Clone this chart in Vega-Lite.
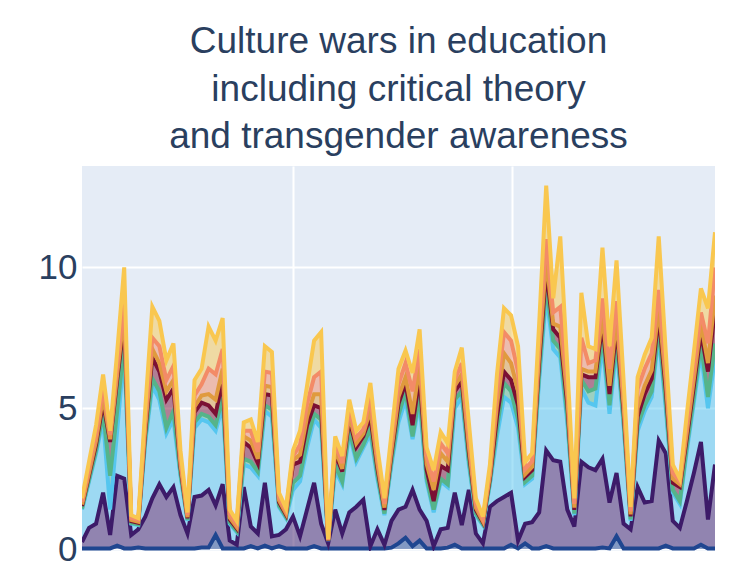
{
  "$schema": "https://vega.github.io/schema/vega-lite/v6.json",
  "width": 633,
  "height": 385,
  "autosize": {"type": "none"},
  "padding": {"left": 82, "top": 166, "right": 24, "bottom": 33},
  "background": "white",
  "title": {
    "text": ["Culture wars in education", "including critical theory", "and transgender awareness"],
    "font": "Liberation Sans",
    "fontSize": 37,
    "fontWeight": "normal",
    "color": "#2a3f5f",
    "anchor": "middle",
    "lineHeight": 47.5,
    "offset": 10
  },
  "config": {
    "view": {"fill": "#E5ECF6", "stroke": null}
  },
  "data": {
    "values": [
      {"t":0,"s1":0.02,"s2":0.23,"s3":1.15,"s4":0.04,"s5":0.09,"s6":0.05,"s7":0.09,"s8":0.13},
      {"t":1,"s1":0.02,"s2":0.73,"s3":1.65,"s4":0.07,"s5":0.15,"s6":0.09,"s7":0.15,"s8":0.24},
      {"t":2,"s1":0.02,"s2":0.88,"s3":2.5,"s4":0.1,"s5":0.22,"s6":0.13,"s7":0.22,"s8":0.33},
      {"t":3,"s1":0.02,"s2":1.98,"s3":2.6,"s4":0.25,"s5":0.35,"s6":0.2,"s7":0.35,"s8":0.45},
      {"t":4,"s1":0.02,"s2":0.48,"s3":0.9,"s4":1.2,"s5":1.2,"s6":0.1,"s7":0.15,"s8":0.15},
      {"t":5,"s1":0.12,"s2":2.48,"s3":1.6,"s4":0.7,"s5":1.1,"s6":0.2,"s7":0.3,"s8":0.5},
      {"t":6,"s1":0.02,"s2":2.48,"s3":4.5,"s4":0.3,"s5":0.8,"s6":0.3,"s7":0.4,"s8":1.2},
      {"t":7,"s1":0.02,"s2":0.48,"s3":0.4,"s4":0.03,"s5":0.06,"s6":0.04,"s7":0.07,"s8":0.1},
      {"t":8,"s1":0.05,"s2":0.65,"s3":0.15,"s4":0.03,"s5":0.05,"s6":0.04,"s7":0.06,"s8":0.07},
      {"t":9,"s1":0.02,"s2":1.13,"s3":2.65,"s4":0.12,"s5":0.26,"s6":0.16,"s7":0.27,"s8":0.39},
      {"t":10,"s1":0.02,"s2":1.78,"s3":4.0,"s4":0.25,"s5":0.75,"s6":0.3,"s7":0.4,"s8":1.1},
      {"t":11,"s1":0.02,"s2":2.28,"s3":3.0,"s4":0.3,"s5":0.7,"s6":0.3,"s7":0.6,"s8":0.9},
      {"t":12,"s1":0.02,"s2":1.83,"s3":2.25,"s4":0.2,"s5":1.0,"s6":0.3,"s7":0.4,"s8":0.7},
      {"t":13,"s1":0.02,"s2":2.18,"s3":2.4,"s4":0.3,"s5":0.8,"s6":0.3,"s7":0.5,"s8":0.8},
      {"t":14,"s1":0.02,"s2":1.18,"s3":1.4,"s4":0.1,"s5":0.2,"s6":0.12,"s7":0.2,"s8":0.28},
      {"t":15,"s1":0.02,"s2":0.53,"s3":0.45,"s4":0.03,"s5":0.06,"s6":0.04,"s7":0.07,"s8":0.1},
      {"t":16,"s1":0.02,"s2":1.83,"s3":2.45,"s4":0.2,"s5":0.35,"s6":0.2,"s7":0.4,"s8":0.55},
      {"t":17,"s1":0.05,"s2":1.85,"s3":2.7,"s4":0.2,"s5":0.4,"s6":0.25,"s7":0.4,"s8":0.55},
      {"t":18,"s1":0.05,"s2":2.05,"s3":2.4,"s4":0.2,"s5":0.4,"s6":0.4,"s7":0.9,"s8":1.5},
      {"t":19,"s1":0.5,"s2":1.05,"s3":2.65,"s4":0.2,"s5":0.4,"s6":0.5,"s7":0.9,"s8":1.2},
      {"t":20,"s1":0.02,"s2":2.28,"s3":2.8,"s4":0.3,"s5":0.6,"s6":0.4,"s7":0.7,"s8":1.1},
      {"t":21,"s1":0.02,"s2":0.28,"s3":0.6,"s4":0.05,"s5":0.1,"s6":0.07,"s7":0.12,"s8":0.16},
      {"t":22,"s1":0.02,"s2":0.13,"s3":0.45,"s4":0.04,"s5":0.09,"s6":0.05,"s7":0.09,"s8":0.13},
      {"t":23,"s1":0.02,"s2":2.18,"s3":0.8,"s4":0.2,"s5":0.6,"s6":0.2,"s7":0.2,"s8":0.3},
      {"t":24,"s1":0.1,"s2":0.7,"s3":2.1,"s4":0.2,"s5":0.5,"s6":0.25,"s7":0.35,"s8":0.4},
      {"t":25,"s1":0.02,"s2":0.53,"s3":2.05,"s4":0.15,"s5":0.3,"s6":0.15,"s7":0.25,"s8":0.35},
      {"t":26,"s1":0.12,"s2":2.23,"s3":2.55,"s4":0.2,"s5":0.4,"s6":0.3,"s7":0.5,"s8":0.9},
      {"t":27,"s1":0.02,"s2":0.43,"s3":4.25,"s4":0.25,"s5":0.5,"s6":0.3,"s7":0.5,"s8":0.75},
      {"t":28,"s1":0.1,"s2":0.4,"s3":1.0,"s4":0.05,"s5":0.11,"s6":0.07,"s7":0.11,"s8":0.16},
      {"t":29,"s1":0.02,"s2":0.68,"s3":0.4,"s4":0.04,"s5":0.08,"s6":0.05,"s7":0.08,"s8":0.1},
      {"t":30,"s1":0.02,"s2":1.13,"s3":0.95,"s4":0.25,"s5":0.65,"s6":0.15,"s7":0.15,"s8":0.2},
      {"t":31,"s1":0.02,"s2":0.43,"s3":1.95,"s4":0.2,"s5":0.5,"s6":0.25,"s7":0.35,"s8":0.5},
      {"t":32,"s1":0.02,"s2":1.38,"s3":2.2,"s4":0.25,"s5":0.55,"s6":0.3,"s7":0.45,"s8":0.65},
      {"t":33,"s1":0.1,"s2":2.25,"s3":2.25,"s4":0.2,"s5":0.3,"s6":0.4,"s7":0.6,"s8":1.3},
      {"t":34,"s1":0.02,"s2":0.88,"s3":3.4,"s4":0.3,"s5":0.4,"s6":0.5,"s7":0.8,"s8":1.4},
      {"t":35,"s1":0.02,"s2":0.18,"s3":0.08,"s4":0.01,"s5":0.01,"s6":0.01,"s7":0.02,"s8":0.02},
      {"t":36,"s1":0.02,"s2":1.38,"s3":1.4,"s4":0.2,"s5":0.4,"s6":0.15,"s7":0.2,"s8":0.25},
      {"t":37,"s1":0.02,"s2":0.53,"s3":1.75,"s4":0.1,"s5":0.35,"s6":0.1,"s7":0.2,"s8":0.25},
      {"t":38,"s1":0.02,"s2":1.28,"s3":2.8,"s4":0.15,"s5":0.35,"s6":0.15,"s7":0.25,"s8":0.3},
      {"t":39,"s1":0.02,"s2":1.48,"s3":1.6,"s4":0.12,"s5":0.4,"s6":0.13,"s7":0.2,"s8":0.25},
      {"t":40,"s1":0.02,"s2":1.73,"s3":1.85,"s4":0.1,"s5":0.3,"s6":0.1,"s7":0.15,"s8":0.25},
      {"t":41,"s1":0.02,"s2":0.08,"s3":4.0,"s4":0.2,"s5":0.4,"s6":0.25,"s7":0.45,"s8":0.5},
      {"t":42,"s1":0.02,"s2":0.68,"s3":1.8,"s4":0.12,"s5":0.25,"s6":0.15,"s7":0.25,"s8":0.33},
      {"t":43,"s1":0.02,"s2":0.13,"s3":1.05,"s4":0.06,"s5":0.13,"s6":0.08,"s7":0.13,"s8":0.2},
      {"t":44,"s1":0.05,"s2":0.95,"s3":2.0,"s4":0.12,"s5":0.25,"s6":0.15,"s7":0.25,"s8":0.33},
      {"t":45,"s1":0.2,"s2":1.2,"s3":3.1,"s4":0.25,"s5":0.4,"s6":0.25,"s7":0.45,"s8":0.55},
      {"t":46,"s1":0.4,"s2":1.1,"s3":3.8,"s4":0.3,"s5":0.3,"s6":0.2,"s7":0.5,"s8":0.45},
      {"t":47,"s1":0.1,"s2":2.0,"s3":1.8,"s4":0.1,"s5":0.4,"s6":0.4,"s7":0.8,"s8":0.65},
      {"t":48,"s1":0.3,"s2":1.1,"s3":3.8,"s4":0.3,"s5":0.6,"s6":0.4,"s7":0.6,"s8":0.7},
      {"t":49,"s1":0.02,"s2":0.98,"s3":1.4,"s4":0.12,"s5":0.3,"s6":0.2,"s7":0.28,"s8":0.3},
      {"t":50,"s1":0.02,"s2":0.08,"s3":1.2,"s4":0.1,"s5":0.3,"s6":0.4,"s7":0.3,"s8":0.4},
      {"t":51,"s1":0.02,"s2":0.68,"s3":1.7,"s4":0.1,"s5":0.45,"s6":0.45,"s7":0.35,"s8":0.4},
      {"t":52,"s1":0.05,"s2":0.7,"s3":1.45,"s4":0.1,"s5":0.5,"s6":0.3,"s7":0.3,"s8":0.35},
      {"t":53,"s1":0.15,"s2":1.85,"s3":3.0,"s4":0.3,"s5":0.3,"s6":0.2,"s7":0.2,"s8":0.3},
      {"t":54,"s1":0.02,"s2":0.83,"s3":4.55,"s4":0.2,"s5":0.35,"s6":0.25,"s7":0.4,"s8":0.55},
      {"t":55,"s1":0.02,"s2":2.08,"s3":0.9,"s4":0.15,"s5":0.3,"s6":0.2,"s7":0.35,"s8":0.5},
      {"t":56,"s1":0.02,"s2":0.53,"s3":0.65,"s4":0.06,"s5":0.13,"s6":0.08,"s7":0.13,"s8":0.2},
      {"t":57,"s1":0.02,"s2":0.18,"s3":0.65,"s4":0.03,"s5":0.07,"s6":0.04,"s7":0.07,"s8":0.09},
      {"t":58,"s1":0.02,"s2":1.48,"s3":0.8,"s4":0.07,"s5":0.15,"s6":0.1,"s7":0.15,"s8":0.23},
      {"t":59,"s1":0.02,"s2":1.68,"s3":2.3,"s4":0.3,"s5":0.4,"s6":0.4,"s7":0.5,"s8":0.6},
      {"t":60,"s1":0.02,"s2":1.83,"s3":3.55,"s4":0.5,"s5":0.4,"s6":0.65,"s7":0.75,"s8":0.85},
      {"t":61,"s1":0.15,"s2":1.85,"s3":3.2,"s4":0.4,"s5":0.4,"s6":0.6,"s7":0.8,"s8":0.9},
      {"t":62,"s1":0.02,"s2":0.28,"s3":4.0,"s4":0.3,"s5":0.5,"s6":0.5,"s7":0.7,"s8":0.9},
      {"t":63,"s1":0.2,"s2":0.7,"s3":1.4,"s4":0.08,"s5":0.18,"s6":0.1,"s7":0.18,"s8":0.26},
      {"t":64,"s1":0.02,"s2":0.93,"s3":1.55,"s4":0.1,"s5":0.2,"s6":0.12,"s7":0.2,"s8":0.28},
      {"t":65,"s1":0.02,"s2":1.28,"s3":4.7,"s4":0.2,"s5":0.45,"s6":0.3,"s7":0.45,"s8":0.6},
      {"t":66,"s1":0.1,"s2":3.4,"s3":5.5,"s4":0.4,"s5":0.5,"s6":0.4,"s7":0.7,"s8":1.9},
      {"t":67,"s1":0.02,"s2":3.13,"s3":3.95,"s4":0.3,"s5":0.4,"s6":0.2,"s7":0.4,"s8":0.5},
      {"t":68,"s1":0.02,"s2":3.08,"s3":3.7,"s4":0.3,"s5":0.4,"s6":0.4,"s7":0.7,"s8":2.5},
      {"t":69,"s1":0.02,"s2":1.38,"s3":3.1,"s4":0.2,"s5":0.45,"s6":0.25,"s7":0.45,"s8":0.65},
      {"t":70,"s1":0.02,"s2":0.78,"s3":0.4,"s4":0.06,"s5":0.13,"s6":0.08,"s7":0.13,"s8":0.2},
      {"t":71,"s1":0.02,"s2":3.08,"s3":2.6,"s4":0.3,"s5":0.2,"s6":0.2,"s7":1.1,"s8":1.6},
      {"t":72,"s1":0.02,"s2":2.88,"s3":2.3,"s4":0.4,"s5":0.5,"s6":0.2,"s7":0.3,"s8":0.6},
      {"t":73,"s1":0.02,"s2":2.78,"s3":2.3,"s4":0.6,"s5":0.4,"s6":0.2,"s7":0.4,"s8":0.4},
      {"t":74,"s1":0.05,"s2":3.15,"s3":4.1,"s4":0.3,"s5":0.4,"s6":0.3,"s7":0.6,"s8":1.8},
      {"t":75,"s1":0.02,"s2":1.63,"s3":3.15,"s4":0.3,"s5":0.4,"s6":0.3,"s7":0.6,"s8":0.8},
      {"t":76,"s1":0.45,"s2":2.25,"s3":4.5,"s4":0.3,"s5":0.4,"s6":0.3,"s7":0.6,"s8":1.45},
      {"t":77,"s1":0.02,"s2":0.88,"s3":3.5,"s4":0.15,"s5":0.35,"s6":0.2,"s7":0.35,"s8":0.55},
      {"t":78,"s1":0.02,"s2":0.68,"s3":0.3,"s4":0.05,"s5":0.11,"s6":0.07,"s7":0.11,"s8":0.16},
      {"t":79,"s1":0.02,"s2":2.18,"s3":2.0,"s4":0.2,"s5":0.3,"s6":0.3,"s7":0.7,"s8":0.4},
      {"t":80,"s1":0.02,"s2":1.63,"s3":3.25,"s4":0.2,"s5":0.4,"s6":0.3,"s7":0.6,"s8":0.5},
      {"t":81,"s1":0.02,"s2":1.68,"s3":3.7,"s4":0.2,"s5":0.45,"s6":0.3,"s7":0.6,"s8":0.55},
      {"t":82,"s1":0.02,"s2":3.83,"s3":3.75,"s4":0.3,"s5":0.4,"s6":0.3,"s7":0.6,"s8":1.9},
      {"t":83,"s1":0.12,"s2":3.28,"s3":1.6,"s4":0.2,"s5":0.45,"s6":0.3,"s7":0.45,"s8":0.6},
      {"t":84,"s1":0.02,"s2":0.98,"s3":1.0,"s4":0.1,"s5":0.25,"s6":0.15,"s7":0.2,"s8":0.3},
      {"t":85,"s1":0.02,"s2":0.73,"s3":0.85,"s4":0.1,"s5":0.5,"s6":0.1,"s7":0.1,"s8":0.1},
      {"t":86,"s1":0.02,"s2":1.68,"s3":1.8,"s4":0.15,"s5":0.3,"s6":0.2,"s7":0.3,"s8":0.35},
      {"t":87,"s1":0.02,"s2":2.68,"s3":2.5,"s4":0.2,"s5":0.4,"s6":0.25,"s7":0.4,"s8":0.55},
      {"t":88,"s1":0.15,"s2":3.65,"s3":3.2,"s4":0.3,"s5":0.4,"s6":0.3,"s7":0.4,"s8":0.85},
      {"t":89,"s1":0.02,"s2":1.03,"s3":3.95,"s4":0.4,"s5":0.9,"s6":0.3,"s7":0.7,"s8":1.25},
      {"t":90,"s1":0.02,"s2":2.98,"s3":3.8,"s4":0.5,"s5":1.2,"s6":0.5,"s7":1.0,"s8":1.25}
    ]
  },
  "transform": [
    {"fold": ["s1", "s2", "s3", "s4", "s5", "s6", "s7", "s8"], "as": ["series", "value"]}
  ],
  "encoding": {
    "x": {
      "field": "t",
      "type": "quantitative",
      "scale": {"domain": [0, 90], "nice": false, "zero": false},
      "axis": {"values": [30, 61.1], "labels": false, "ticks": false, "domain": false, "grid": true, "gridColor": "white", "gridWidth": 2, "title": null}
    },
    "y": {
      "field": "value",
      "type": "quantitative",
      "stack": "zero",
      "scale": {"domain": [-0.07, 13.6], "nice": false, "zero": false},
      "axis": {"values": [0, 5, 10], "ticks": false, "domain": false, "grid": true, "gridColor": "white", "gridWidth": 2, "labelFont": "Liberation Sans", "labelFontSize": 35, "labelColor": "#2a3f5f", "labelPadding": 5, "title": null}
    },
    "color": {
      "field": "series",
      "type": "nominal",
      "legend": null,
      "scale": {
        "domain": ["s1", "s2", "s3", "s4", "s5", "s6", "s7", "s8"],
        "range": ["#1f4690", "#3d1b69", "#55c6ef", "#55b48a", "#7b1034", "#e09a3e", "#f38b67", "#f9c74f"]
      }
    },
    "order": {"field": "series", "sort": "ascending"}
  },
  "layer": [
    {"mark": {"type": "area", "fillOpacity": 0.5, "clip": true}},
    {"mark": {"type": "line", "strokeWidth": 4, "clip": true}}
  ]
}
